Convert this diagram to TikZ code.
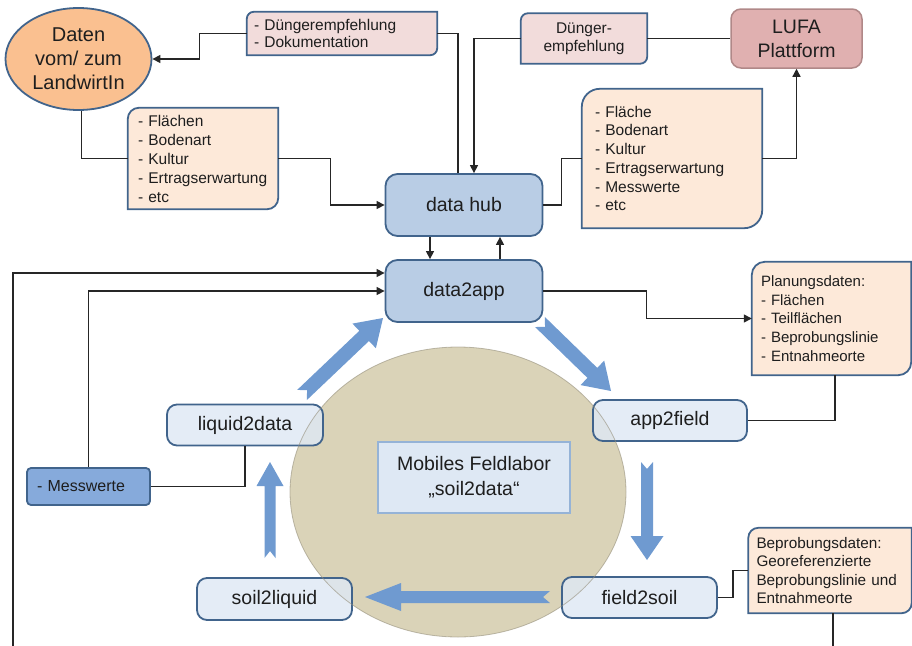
\documentclass[tikz,border=0pt]{standalone}
\usepackage{fontspec}
\setmainfont{Liberation Sans}
\usetikzlibrary{calc,shapes.geometric,arrows.meta}
\pgfdeclarelayer{bg}
\pgfsetlayers{bg,main}
\definecolor{bord}{RGB}{65,100,140}
\definecolor{txt}{RGB}{30,30,30}
\definecolor{hubfill}{RGB}{185,205,229}
\definecolor{lightfill}{RGB}{222,232,244}
\definecolor{messfill}{RGB}{134,170,219}
\definecolor{peach}{RGB}{253,233,217}
\definecolor{pink}{RGB}{242,220,219}
\definecolor{lufafill}{RGB}{224,176,176}
\definecolor{lufabord}{RGB}{176,136,136}
\definecolor{orangefill}{RGB}{250,192,144}
\definecolor{circfill}{RGB}{218,211,184}
\definecolor{circbord}{RGB}{150,144,125}
\definecolor{fatcol}{RGB}{111,154,208}
\definecolor{mobbord}{RGB}{149,179,215}
\newcommand\diagframe[3]{%
  \path[#3] (#1.west) [rounded corners=#2] -- (#1.north west) [sharp corners] -- (#1.north east) -- (#1.east) [rounded corners=#2] -- (#1.south east) [sharp corners] -- (#1.south west) -- cycle;}
\newcommand\fatarrow[5]{%
  \coordinate (fan) at ($(#2)!#5!(#1)$);
  \fill[fatcol] ($(#1)!#3!90:(#2)$) -- ($(fan)!#3!-90:(#1)$) -- ($(fan)!#4!-90:(#1)$) -- (#2)
    -- ($(fan)!#4!90:(#1)$) -- ($(fan)!#3!90:(#1)$) -- ($(#1)!#3!-90:(#2)$) -- ($(#1)!7pt!(#2)$) -- cycle;}
\begin{document}
\begin{tikzpicture}[x=1pt,y=-1pt,
  every node/.style={text=txt},
  conn/.style={line width=1.3pt, draw=black!85},
  arr/.style={conn, -{Triangle[length=8pt,width=8pt]}},
  lbl/.style={font=\fontsize{19.5}{23}\selectfont},
  lst/.style={font=\fontsize{15.5}{19}\selectfont},
  mainbox/.style={lbl, draw=bord, line width=1.8pt, fill=hubfill, rounded corners=12pt, inner sep=0pt, minimum width=157pt, minimum height=62pt},
  smallbox/.style={lbl, draw=bord, line width=1.8pt, fill=lightfill, fill opacity=0.82, text opacity=1, rounded corners=10pt, inner sep=0pt},
  listnode/.style={lst, align=left, inner ysep=0pt},
  frame/.style={draw=bord, line width=1.8pt}
]
\useasboundingbox (0,0) rectangle (912,645);

% field lab circle
\begin{pgfonlayer}{bg}
\node[ellipse, fill=circfill, minimum width=336pt, minimum height=290pt, inner sep=0pt] (circ) at (458,492) {};
\end{pgfonlayer}
\node[lbl, align=center, draw=mobbord, line width=1.5pt, fill=lightfill, minimum width=192pt, minimum height=71pt, inner sep=0pt, font=\fontsize{19.5}{25}\selectfont] (mob) at (474,477.5) {Mobiles Feldlabor\\„soil2data“};

% big blue arrows
\fatarrow{302,395}{383,318}{7pt}{17pt}{26pt}
\fatarrow{540,322}{611,391}{7pt}{17pt}{26pt}
\fatarrow{647,462}{647,560}{6pt}{16.5pt}{24pt}
\fatarrow{550,597}{365,597}{6pt}{14pt}{36pt}
\fatarrow{270,558}{270,462}{5.5pt}{13.5pt}{24pt}

% main nodes
\node[ellipse, draw=bord, line width=1.8pt, fill=orangefill, minimum width=146pt, minimum height=102pt, inner sep=0pt, align=center, font=\fontsize{20}{24}\selectfont] (ell) at (78.5,59) {Daten\\vom/ zum\\LandwirtIn};
\node[lbl, align=center, draw=lufabord, line width=1.5pt, fill=lufafill, rounded corners=10pt, minimum width=131pt, minimum height=59pt, inner sep=0pt, font=\fontsize{19.5}{24}\selectfont] (lufa) at (796.5,38.5) {LUFA\\Plattform};
\node[mainbox] (hub) at (464,205) {data hub};
\node[mainbox] (app) at (464,291) {data2app};
\node[smallbox, minimum width=156pt, minimum height=41pt] (liq) at (245,425) {liquid2data};
\node[smallbox, minimum width=154pt, minimum height=41pt] (a2f) at (670,420.5) {app2field};
\node[smallbox, minimum width=155pt, minimum height=42pt] (s2l) at (274.5,599) {soil2liquid};
\node[smallbox, minimum width=155pt, minimum height=41pt] (f2s) at (639.5,597.5) {field2soil};
\node[lst, draw=bord, line width=1.8pt, fill=messfill, rounded corners=4pt, minimum width=123pt, minimum height=37pt, inner xsep=10pt, inner ysep=0pt, text width=103pt, align=left, font=\fontsize{16}{19}\selectfont] (mess) at (88.5,486.5) {- Messwerte};

% list boxes (frames on background layer)
\node[listnode, inner xsep=7pt, text width=176pt, minimum height=43pt, font=\fontsize{15.5}{17}\selectfont] (dok) at (342,33.5) {- Düngerempfehlung\\- Dokumentation};
\node[listnode, align=center, inner xsep=0pt, text width=126pt, minimum height=50pt, font=\fontsize{15.5}{18}\selectfont] (dung) at (584,38.5) {Dünger-\\empfehlung};
\node[listnode, inner xsep=10pt, text width=130pt, minimum height=101pt] (flL) at (203,158.5) {- Flächen\\- Bodenart\\- Kultur\\- Ertragserwartung\\- etc};
\node[listnode, inner xsep=13pt, text width=154pt, minimum height=139pt, font=\fontsize{15.5}{18.7}\selectfont] (flR) at (672,158.5) {- Fläche\\- Bodenart\\- Kultur\\- Ertragserwartung\\- Messwerte\\- etc};
\node[listnode, inner xsep=9pt, text width=141pt, minimum height=113pt, font=\fontsize{15}{18.6}\selectfont] (plan) at (831.5,318.5) {Planungsdaten:\\- Flächen\\- Teilflächen\\- Beprobungslinie\\- Entnahmeorte};
\node[listnode, inner xsep=8pt, text width=147pt, minimum height=85pt, font=\fontsize{15.3}{18.3}\selectfont] (bep) at (830,570.5) {Beprobungsdaten:\\Georeferenzierte\\Beprobungslinie und\\Entnahmeorte};
\begin{pgfonlayer}{bg}
\diagframe{dok}{7pt}{frame, fill=pink}
\diagframe{dung}{7pt}{frame, fill=pink}
\diagframe{flL}{11pt}{frame, fill=peach}
\diagframe{flR}{18pt}{frame, fill=peach}
\diagframe{plan}{13pt}{frame, fill=peach}
\diagframe{bep}{10pt}{frame, fill=peach}
\end{pgfonlayer}

% circle outline seen through the boxes
\node[ellipse, draw=circbord, draw opacity=0.6, line width=0.8pt, minimum width=336pt, minimum height=290pt, inner sep=0pt] (circo) at (458,492) {};

% connectors
\coordinate (bl) at (13,646);
\coordinate (br) at (833,646);
\draw[arr] (dok.west) -- ++(-47,0) |- (ell.east);
\draw[conn] (dok.east) -| ([xshift=-6pt]hub.north);
\draw[arr] (dung.west) -| ([xshift=10pt]hub.north);
\draw[conn] (dung.east) -- (lufa.west);
\draw[conn] ([xshift=3pt]ell.south) |- (flL.west);
\draw[arr] (flL.east) -- ++(52,0) |- (hub.west);
\draw[conn] (hub.east) -- ++(18,0) |- (flR.west);
\draw[arr] (flR.east) -| (lufa.south);
\draw[arr] ([xshift=-34pt]hub.south) -- ([xshift=-34pt]app.north);
\draw[arr] ([xshift=36pt]app.north) -- ([xshift=36pt]hub.south);
\draw[arr] (bl) |- ([yshift=18pt]app.west);
\draw[arr] (mess.north) |- (app.west);
\draw[conn] (mess.east) -| (liq.south);
\draw[arr] (app.east) -- ++(103,0) |- (plan.west);
\draw[conn] (a2f.east) -| ([xshift=3.5pt]plan.south);
\draw[conn] (f2s.east) -- ++(15,0) |- (bep.west);
\draw[conn] ([xshift=3pt]bep.south) -- (br);
\end{tikzpicture}
\end{document}
